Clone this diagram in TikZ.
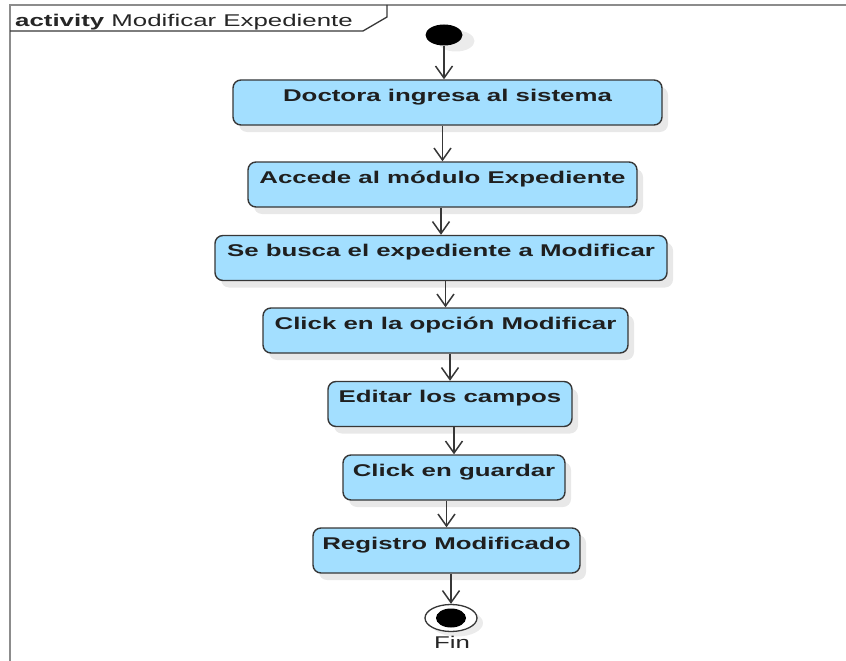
\documentclass[tikz,border=0pt]{standalone}
\usepackage{fontspec}
\setmainfont{Liberation Sans}
\usetikzlibrary{positioning,shapes.geometric,arrows.meta,shadows}
\definecolor{actfill}{RGB}{163,223,255}
\definecolor{actline}{RGB}{55,55,55}
\definecolor{frameline}{RGB}{140,140,140}
\newcommand{\wide}[1]{\scalebox{1.52}[1]{#1}}

\begin{document}
\begin{tikzpicture}[x=1pt,y=-1pt,
  act/.style={draw=actline, line width=1.4pt, fill=actfill, rounded corners=8pt,
    minimum height=45pt, text height=14pt, text depth=17pt, inner ysep=7pt,
    font=\fontsize{17}{20}\selectfont\bfseries, text=black!88,
    general shadow={fill=black!9, shadow xshift=6pt, shadow yshift=-7pt}},
  flow/.style={draw=actline, line width=1.6pt, -{Straight Barb[length=12pt,width=17pt,line width=1.5pt]}},
  initial/.style={ellipse, fill=black, inner sep=0pt, minimum width=37pt, minimum height=21pt,
    general shadow={fill=black!8, shadow xshift=12pt, shadow yshift=-6pt}},
  final/.style={ellipse, draw=actline, line width=1.3pt, fill=white, inner sep=0pt,
    minimum width=52pt, minimum height=27pt,
    general shadow={fill=black!8, shadow xshift=6pt, shadow yshift=-5pt}},
  finaldot/.style={ellipse, fill=black, inner sep=0pt, minimum width=30pt, minimum height=19pt},
  txt/.style={inner sep=0pt, font=\fontsize{17}{20}\selectfont, text=black!85}]
\useasboundingbox (0,0) rectangle (846,661);

\draw[frameline, line width=2.8pt] (10,661) -- (10,5) -- (846,5);
\draw[actline, line width=1.3pt] (10,31) -- (363,31) -- (387,17) -- (387,5);
\node[txt, anchor=base west] (title) at (15,27) {\wide{\textbf{activity} Modificar Expediente}};

\node[initial] (start) at (444,35) {};
\node[act, minimum width=429pt] (a1) at (447.5,102.5) {\wide{Doctora ingresa al sistema}};
\node[act, minimum width=389pt] (a2) at (442.5,184.5) {\wide{Accede al módulo Expediente}};
\node[act, minimum width=452pt] (a3) at (441,258) {\wide{Se busca el expediente a Modificar}};
\node[act, minimum width=365pt] (a4) at (445.5,330.5) {\wide{Click en la opción Modificar}};
\node[act, minimum width=244pt] (a5) at (450,404) {\wide{Editar los campos}};
\node[act, minimum width=222pt] (a6) at (454,477.5) {\wide{Click en guardar}};
\node[act, minimum width=267pt] (a7) at (446.5,550.5) {\wide{Registro Modificado}};
\node[final] (fin) at (451,618) {};
\node[finaldot] (findot) at (fin) {};
\node[txt, anchor=base] (finlabel) at (452,648) {\wide{Fin}};

\draw[flow] (start) -- (start |- a1.north);
\draw[flow] (a1.south -| a2.north) -- (a2.north);
\draw[flow] (a2.south -| a3.north) -- (a3.north);
\draw[flow] (a3.south -| a4.north) -- (a4.north);
\draw[flow] (a4.south -| a5.north) -- (a5.north);
\draw[flow] (a5.south -| a6.north) -- (a6.north);
\draw[flow] (a6.south -| a7.north) -- (a7.north);
\draw[flow] (a7.south -| fin) -- (fin);
\end{tikzpicture}
\end{document}
